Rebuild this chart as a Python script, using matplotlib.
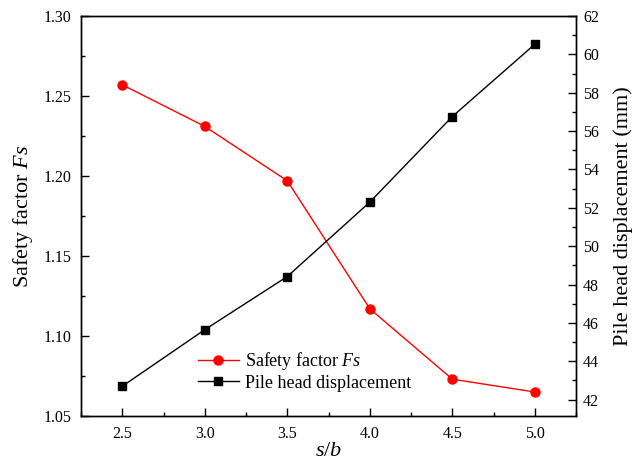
import matplotlib
matplotlib.use("Agg")
import matplotlib.pyplot as plt
from matplotlib.ticker import MultipleLocator

# spacing ratio s/b
sb = [2.5, 3.0, 3.5, 4.0, 4.5, 5.0]
# safety factor Fs (left axis)
fs = [1.257, 1.231, 1.197, 1.117, 1.073, 1.065]
# pile head displacement in mm (right axis)
disp = [42.7, 45.65, 48.42, 52.3, 56.76, 60.53]

plt.rcParams["font.family"] = ["Liberation Serif", "DejaVu Serif"]
plt.rcParams["mathtext.fontset"] = "custom"
plt.rcParams["mathtext.it"] = "Liberation Serif:italic"
plt.rcParams["mathtext.rm"] = "Liberation Serif"


def style_ticks(ax):
    ax.tick_params(which="major", direction="in", length=6, width=1,
                   labelsize=11.5, pad=7)
    ax.tick_params(which="minor", direction="in", length=3, width=1)


def main():
    fig = plt.figure(figsize=(6.38, 4.65), dpi=100)
    ax = fig.add_axes([0.127, 0.1054, 0.776, 0.8602])
    ax2 = ax.twinx()

    l1, = ax.plot(sb, fs, color="red", lw=1.0, marker="o", ms=6.5,
                  label="Safety factor $\\mathit{Fs}$")
    l2, = ax2.plot(sb, disp, color="black", lw=1.0, marker="s", ms=5.5,
                   label="Pile head displacement")

    ax.set_xlim(2.25, 5.25)
    ax.set_ylim(1.05, 1.30)
    ax2.set_ylim(41.15, 62)

    ax.xaxis.set_major_locator(MultipleLocator(0.5))
    ax.xaxis.set_minor_locator(MultipleLocator(0.25))
    ax.yaxis.set_major_locator(MultipleLocator(0.05))
    ax.yaxis.set_minor_locator(MultipleLocator(0.025))
    ax2.yaxis.set_major_locator(MultipleLocator(2))
    ax2.yaxis.set_minor_locator(MultipleLocator(1))
    ax.yaxis.set_major_formatter(plt.FormatStrFormatter("%.2f"))
    ax.xaxis.set_major_formatter(plt.FormatStrFormatter("%.1f"))

    style_ticks(ax)
    style_ticks(ax2)
    ax2.tick_params(which="major", pad=5)
    for a in (ax, ax2):
        for sp in a.spines.values():
            sp.set_linewidth(1.0)

    ax.set_xlabel("$s/b$", fontsize=16, labelpad=0)
    ax.set_ylabel("Safety factor $\\mathit{Fs}$", fontsize=16, labelpad=6)
    ax2.set_ylabel("Pile head displacement (mm)", fontsize=16, labelpad=10)

    ax.legend([l1, l2], [l1.get_label(), l2.get_label()], loc="upper left",
              bbox_to_anchor=(0.21, 0.197), frameon=False, fontsize=13,
              handlelength=2.3, handletextpad=0.35, borderpad=0.2,
              labelspacing=0.15)

    fig.savefig("out.png", dpi=100)


if __name__ == "__main__":
    main()
